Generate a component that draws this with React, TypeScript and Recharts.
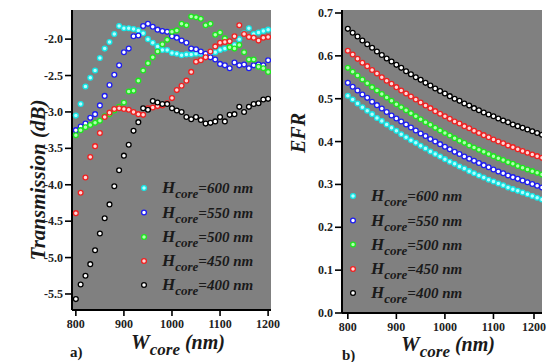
import { ScatterChart, Scatter, XAxis, YAxis, CartesianGrid } from 'recharts'

const FONT = "'Liberation Serif', 'DejaVu Serif', serif"

// W_core (nm)
const wCore = [
  800, 810, 820, 830, 840, 850, 860, 870, 880, 890, 900, 910, 920, 930, 940, 950, 960, 970, 980, 990, 1000,
  1010, 1020, 1030, 1040, 1050, 1060, 1070, 1080, 1090, 1100, 1110, 1120, 1130, 1140, 1150, 1160, 1170, 1180, 1190, 1200,
]

// a) transmission (dB)
const trans600 = [
  -3.05, -2.89, -2.65, -2.53, -2.43, -2.26, -2.13, -2.04, -1.93, -1.82, -1.85, -1.85, -1.86, -1.88, -1.92, -2.0, -2.05, -2.1, -2.15, -2.15, -2.19,
  -2.2, -2.22, -2.21, -2.21, -2.2, -2.2, -2.21, -2.2, -2.18, -2.15, -2.13, -2.11, -2.08, -2.0, -1.92, -1.85, -1.93, -1.91, -1.89, -1.87,
]
const trans550 = [
  -3.25, -3.2, -3.16, -3.08, -3.03, -2.91, -2.78, -2.63, -2.49, -2.36, -2.18, -2.13, -1.96, -1.95, -1.82, -1.79, -1.83, -1.87, -1.89, -1.9, -1.96,
  -1.98, -2.02, -2.05, -2.13, -2.14, -2.17, -2.2, -2.25, -2.28, -2.34, -2.36, -2.4, -2.32, -2.36, -2.35, -2.4, -2.36, -2.35, -2.36, -2.29,
]
const trans500 = [
  -3.32, -3.25, -3.21, -3.18, -3.15, -3.12, -3.06, -3.03, -2.98, -2.93, -2.87, -2.72, -2.71, -2.57, -2.43, -2.33, -2.25, -2.17, -2.07, -2.01, -1.9,
  -1.88, -1.79, -1.81, -1.69, -1.7, -1.72, -1.81, -1.79, -1.94, -1.91, -1.99, -2.11, -2.13, -2.08, -2.18, -2.28, -2.28, -2.38, -2.4, -2.45,
]
const trans450 = [
  -4.39, -4.11, -3.9, -3.62, -3.47, -3.29, -3.07, -3.01, -2.96, -2.95, -2.96, -2.97, -3.0, -3.03, -3.04, -2.95, -2.94, -2.92, -2.91, -2.88, -2.81,
  -2.7, -2.64, -2.57, -2.45, -2.31, -2.29, -2.25, -2.17, -2.1, -2.05, -2.04, -2.03, -1.96, -1.81, -1.93, -1.97, -1.98, -2.02, -1.98, -1.97,
]
const trans400 = [
  -5.57, -5.37, -5.25, -5.09, -4.9, -4.67, -4.46, -4.27, -4.02, -3.8, -3.6, -3.45, -3.26, -3.14, -2.95, -2.97, -2.85, -2.87, -2.89, -2.89, -2.95,
  -2.98, -3.0, -3.07, -3.1, -3.07, -3.11, -3.16, -3.15, -3.13, -3.07, -3.13, -3.04, -3.03, -2.93, -3.0, -2.93, -2.89, -2.88, -2.83, -2.82,
]

// b) EFR
const efr600 = [
  0.507, 0.498, 0.489, 0.48, 0.472, 0.464, 0.455, 0.448, 0.44, 0.432, 0.425, 0.417, 0.41, 0.403, 0.397, 0.39, 0.384, 0.377, 0.371, 0.365, 0.359,
  0.353, 0.348, 0.342, 0.337, 0.331, 0.326, 0.321, 0.316, 0.311, 0.307, 0.302, 0.298, 0.293, 0.289, 0.285, 0.281, 0.277, 0.273, 0.269, 0.265,
]
const efr550 = [
  0.537, 0.528, 0.519, 0.51, 0.502, 0.493, 0.485, 0.477, 0.469, 0.461, 0.454, 0.447, 0.44, 0.433, 0.426, 0.419, 0.413, 0.406, 0.4, 0.394, 0.388,
  0.382, 0.376, 0.371, 0.365, 0.36, 0.355, 0.35, 0.345, 0.34, 0.335, 0.33, 0.326, 0.321, 0.317, 0.313, 0.309, 0.305, 0.301, 0.297, 0.293,
]
const efr500 = [
  0.572, 0.563, 0.554, 0.545, 0.536, 0.527, 0.519, 0.511, 0.503, 0.495, 0.487, 0.48, 0.473, 0.466, 0.459, 0.452, 0.445, 0.439, 0.432, 0.426, 0.42,
  0.414, 0.408, 0.402, 0.397, 0.391, 0.386, 0.381, 0.376, 0.371, 0.366, 0.361, 0.357, 0.352, 0.348, 0.343, 0.339, 0.335, 0.331, 0.327, 0.323,
]
const efr450 = [
  0.612, 0.603, 0.593, 0.584, 0.576, 0.567, 0.559, 0.55, 0.542, 0.535, 0.527, 0.519, 0.512, 0.505, 0.498, 0.491, 0.484, 0.478, 0.471, 0.465, 0.459,
  0.453, 0.447, 0.442, 0.436, 0.431, 0.425, 0.42, 0.415, 0.41, 0.405, 0.4, 0.396, 0.391, 0.387, 0.382, 0.378, 0.374, 0.37, 0.366, 0.362,
]
const efr400 = [
  0.663, 0.654, 0.645, 0.636, 0.627, 0.619, 0.61, 0.602, 0.594, 0.587, 0.579, 0.572, 0.564, 0.557, 0.55, 0.544, 0.537, 0.531, 0.524, 0.518, 0.512,
  0.506, 0.5, 0.495, 0.489, 0.484, 0.478, 0.473, 0.468, 0.463, 0.459, 0.454, 0.449, 0.445, 0.44, 0.436, 0.432, 0.428, 0.424, 0.42, 0.416,
]

const hCore = ['600', '550', '500', '450', '400']
const xTicks = [800, 850, 900, 950, 1000, 1050, 1100, 1150, 1200]
const transTicks = [-1.75, -2, -2.25, -2.5, -2.75, -3, -3.25, -3.5, -3.75, -4, -4.25, -4.5, -4.75, -5, -5.25, -5.5]
const efrTicks = [0, 0.05, 0.1, 0.15, 0.2, 0.25, 0.3, 0.35, 0.4, 0.45, 0.5, 0.55, 0.6, 0.65, 0.7]

const styles = [
  { color: '#14e6e6', fill: '#b4ffff' },
  { color: '#1c1cf0', fill: '#ffffff' },
  { color: '#1ee61e', fill: '#b0ffb0' },
  { color: '#f02020', fill: '#ffd8d8' },
  { color: '#000000', fill: '#ffffff' },
]

const transSeries = [trans600, trans550, trans500, trans450, trans400]
const efrSeries = [efr600, efr550, efr500, efr450, efr400]

const toPoints = (ys: number[]) => wCore.map((x, i) => ({ x, y: ys[i] }))

const dot = (color: string, fill: string) => (p: any) => (
  <circle cx={p.cx} cy={p.cy} r={2.4} fill={fill} stroke={color} strokeWidth={1.3} />
)

const isMult = (v: number, step: number) => Math.abs(v / step - Math.round(v / step)) < 1e-6

const txt = { fontFamily: FONT, fontWeight: 'bold' as const }
const ital = { fontFamily: FONT, fontWeight: 'bold' as const, fontStyle: 'italic' as const }

function XTick({ x, y, payload }: any) {
  const v = payload.value
  const major = isMult(v, 100)
  return (
    <g>
      <line x1={x} x2={x} y1={y} y2={y + (major ? 6 : 4)} stroke="#000" strokeWidth={1.6} />
      {major && (
        <text x={x} y={y + 18} textAnchor="middle" fontSize={12} fill="#222" style={txt}>
          {v}
        </text>
      )}
    </g>
  )
}

const makeYTick = (step: number) => ({ x, y, payload }: any) => {
  const v = payload.value
  const major = isMult(v, step)
  return (
    <g>
      <line x1={x - (major ? 7 : 4)} x2={x} y1={y} y2={y} stroke="#000" strokeWidth={1.6} />
      {major && (
        <text x={x - 9} y={y + 4} textAnchor="end" fontSize={12} fill="#222" style={txt}>
          {v.toFixed(1)}
        </text>
      )}
    </g>
  )
}

function Panel({ series, yDomain, xDomain, yTicks, yStep, width, yWidth, margin }: any) {
  return (
    <ScatterChart width={width} height={362} margin={margin}>
      <CartesianGrid fill="#808080" horizontal={false} vertical={false} />
      <XAxis
        type="number"
        dataKey="x"
        domain={xDomain}
        ticks={xTicks}
        height={30}
        tickSize={0}
        tickMargin={0}
        tick={XTick}
        axisLine={{ stroke: '#000', strokeWidth: 2 }}
        allowDataOverflow
      />
      <XAxis xAxisId="top" orientation="top" type="number" domain={xDomain} height={0} tick={false} tickLine={false} axisLine={{ stroke: '#000', strokeWidth: 2 }} />
      <YAxis
        type="number"
        dataKey="y"
        domain={yDomain}
        ticks={yTicks}
        width={yWidth}
        tickSize={0}
        tickMargin={0}
        tick={makeYTick(yStep)}
        axisLine={{ stroke: '#000', strokeWidth: 2 }}
        allowDataOverflow
      />
      <YAxis yAxisId="right" orientation="right" type="number" domain={yDomain} width={0} tick={false} tickLine={false} axisLine={{ stroke: '#000', strokeWidth: 2.5 }} />
      {series.map((ys: number[], i: number) => (
        <Scatter key={hCore[i]} data={toPoints(ys)} shape={dot(styles[i].color, styles[i].fill)} isAnimationActive={false} />
      ))}
    </ScatterChart>
  )
}

function LegendRows({ x, rows }: { x: number; rows: number[] }) {
  return (
    <g>
      {rows.map((cy, i) => (
        <g key={hCore[i]}>
          <circle cx={x} cy={cy} r={2.4} fill={styles[i].fill} stroke={styles[i].color} strokeWidth={1.3} />
          <text x={x + 18} y={cy + 5} fill="#1a1a1a" style={ital}>
            <tspan fontSize={17}>H</tspan>
            <tspan fontSize={13} dy={5}>core</tspan>
            <tspan fontSize={15} dy={-5}>{`=${hCore[i]} nm`}</tspan>
          </text>
        </g>
      ))}
    </g>
  )
}

function WTitle({ x, y }: { x: number; y: number }) {
  return (
    <text x={x} y={y} textAnchor="middle" fill="#1a1a1a" style={ital}>
      <tspan fontSize={21}>W</tspan>
      <tspan fontSize={17} dy={6}>core</tspan>
      <tspan fontSize={20} dy={-6}> (nm)</tspan>
    </text>
  )
}

export default function App() {
  return (
    <div style={{ position: 'absolute', left: 0, top: 0, width: 550, height: 362, background: '#fff', overflow: 'hidden' }}>
      <div style={{ position: 'absolute', left: 0, top: 0 }}>
        <Panel
          series={transSeries}
          yDomain={[-5.72, -1.6]}
          xDomain={[792, 1206]}
          yTicks={transTicks}
          yStep={0.5}
          width={300}
          yWidth={72}
          margin={{ top: 10, right: 29, bottom: 22, left: 0 }}
        />
      </div>
      <div style={{ position: 'absolute', left: 280, top: 0 }}>
        <Panel
          series={efrSeries}
          yDomain={[0, 0.707]}
          xDomain={[788, 1200]}
          yTicks={efrTicks}
          yStep={0.1}
          width={270}
          yWidth={62}
          margin={{ top: 10, right: 8, bottom: 19, left: 0 }}
        />
      </div>
      <svg width={550} height={362} style={{ position: 'absolute', left: 0, top: 0, pointerEvents: 'none' }}>
        <text transform="translate(45,180) rotate(-90)" textAnchor="middle" fontSize={21} fill="#1a1a1a" style={ital}>
          Transmission (dB)
        </text>
        <text transform="translate(305,133) rotate(-90)" textAnchor="middle" fontSize={20} fill="#1a1a1a" style={ital}>
          EFR
        </text>
        <WTitle x={178} y={349} />
        <WTitle x={448} y={351} />
        <text x={70} y={357} fontSize={15} fill="#1a1a1a" style={txt}>a)</text>
        <text x={342} y={360} fontSize={15} fill="#1a1a1a" style={txt}>b)</text>
        <LegendRows x={144} rows={[188, 212.5, 237, 261, 285]} />
        <LegendRows x={353} rows={[196, 220.5, 244.5, 269, 293]} />
      </svg>
    </div>
  )
}
